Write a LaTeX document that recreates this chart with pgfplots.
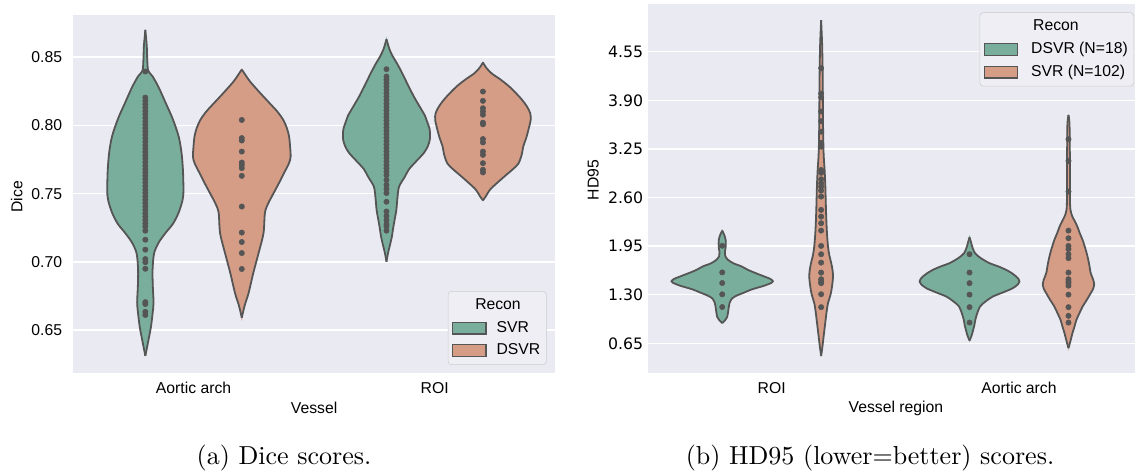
\documentclass[border=0pt]{standalone}
\usepackage{fontspec}
\usepackage{pgfplots}
\usepackage{pgfplotstable}
\pgfplotsset{compat=1.18}
\newfontfamily\arialfont{Liberation Sans}
\newfontfamily\dejavufont{DejaVu Sans}
\newfontfamily\capfont{lmroman10-regular}[Extension=.otf]
\definecolor{bgcol}{HTML}{EAEAF2}
\definecolor{cgreen}{RGB}{122,174,156}
\definecolor{csalmon}{RGB}{214,157,134}
\definecolor{vgray}{HTML}{555555}
\definecolor{dotgray}{HTML}{555555}
\definecolor{legborder}{HTML}{CCCCCC}
\definecolor{legfill}{HTML}{EEEEF4}
\newcommand{\tfont}{\arialfont\fontsize{11.8}{14}\selectfont}
\newcommand{\dfont}{\dejavufont\fontsize{11.8}{14}\selectfont}

% ---------- Dice violins: value v, half width w ----------
\pgfplotstableread{
v w
0.631 0
0.640 0.010
0.652 0.023
0.662 0.030
0.670 0.034
0.682 0.031
0.694 0.030
0.706 0.036
0.714 0.055
0.721 0.083
0.728 0.115
0.736 0.138
0.745 0.154
0.752 0.158
0.767 0.156
0.780 0.150
0.792 0.138
0.805 0.113
0.817 0.083
0.828 0.055
0.836 0.030
0.840 0.012
0.848 0.008
0.858 0.006
0.870 0
}\dSA
\pgfplotstableread{
v w
0.659 0
0.668 0.012
0.677 0.028
0.692 0.048
0.706 0.069
0.721 0.090
0.736 0.096
0.743 0.110
0.750 0.131
0.758 0.155
0.765 0.175
0.772 0.195
0.777 0.2025
0.785 0.200
0.792 0.196
0.798 0.187
0.804 0.172
0.810 0.148
0.816 0.117
0.824 0.075
0.832 0.035
0.837 0.015
0.841 0
}\dDA
\pgfplotstableread{
v w
0.700 0
0.706 0.006
0.712 0.014
0.718 0.022
0.725 0.028
0.732 0.035
0.738 0.041
0.746 0.045
0.755 0.052
0.762 0.075
0.768 0.094
0.774 0.125
0.780 0.156
0.785 0.172
0.790 0.180
0.797 0.179
0.803 0.168
0.807 0.160
0.814 0.137
0.821 0.114
0.830 0.088
0.838 0.066
0.845 0.045
0.851 0.025
0.856 0.012
0.8632 0
}\dSR
\pgfplotstableread{
v w
0.745 0
0.748 0.012
0.753 0.030
0.758 0.060
0.763 0.092
0.768 0.125
0.772 0.147
0.778 0.160
0.785 0.168
0.791 0.180
0.797 0.189
0.804 0.198
0.809 0.196
0.814 0.182
0.819 0.161
0.824 0.135
0.829 0.106
0.834 0.070
0.838 0.037
0.842 0.015
0.8461 0
}\dDR
% ---------- HD95 violins ----------
\pgfplotstableread{
v w
0.92 0
0.96 0.012
1.00 0.020
1.05 0.023
1.12 0.026
1.19 0.030
1.25 0.040
1.29 0.060
1.33 0.090
1.37 0.119
1.42 0.170
1.46 0.200
1.48 0.205
1.51 0.195
1.55 0.165
1.59 0.134
1.63 0.105
1.68 0.077
1.72 0.045
1.77 0.022
1.82 0.012
1.87 0.011
1.94 0.014
2.03 0.014
2.10 0.008
2.157 0
}\hDR
\pgfplotstableread{
v w
0.48 0
0.60 0.005
0.74 0.010
0.85 0.014
0.96 0.018
1.07 0.022
1.19 0.028
1.30 0.038
1.41 0.044
1.54 0.048
1.63 0.046
1.72 0.041
1.83 0.033
1.94 0.028
2.10 0.024
2.30 0.021
2.50 0.019
2.75 0.017
2.97 0.014
3.19 0.010
3.50 0.008
3.90 0.007
4.30 0.006
4.65 0.004
4.97 0
}\hSR
\pgfplotstableread{
v w
0.686 0
0.75 0.008
0.82 0.014
0.90 0.020
0.96 0.023
1.04 0.030
1.14 0.042
1.21 0.065
1.275 0.094
1.33 0.135
1.387 0.175
1.44 0.196
1.475 0.202
1.51 0.198
1.542 0.189
1.59 0.170
1.632 0.148
1.68 0.115
1.721 0.081
1.79 0.045
1.855 0.022
1.93 0.012
2.00 0.006
2.069 0
}\hDA
\pgfplotstableread{
v w
0.585 0
0.68 0.008
0.785 0.016
0.87 0.024
0.963 0.032
1.05 0.044
1.141 0.057
1.23 0.074
1.32 0.090
1.38 0.100
1.431 0.104
1.50 0.100
1.587 0.090
1.70 0.084
1.81 0.077
1.92 0.068
2.033 0.057
2.12 0.046
2.21 0.036
2.28 0.026
2.344 0.016
2.434 0.008
2.60 0.006
3.00 0.006
3.40 0.005
3.60 0.004
3.704 0
}\hSA

% #1 table, #2 centre, #3 colour
\newcommand{\violin}[3]{%
  \addplot[fill=#3, draw=#3, line width=0.5pt, smooth, tension=0.5, forget plot]
    table[x expr=#2+\thisrow{w}, y=v]{#1} -- cycle;
  \addplot[fill=#3, draw=#3, line width=0.5pt, smooth, tension=0.5, forget plot]
    table[x expr=#2-\thisrow{w}, y=v]{#1} -- cycle;
  \addplot[draw=vgray, line width=1.35pt, smooth, tension=0.5, forget plot]
    table[x expr=#2+\thisrow{w}, y=v]{#1};
  \addplot[draw=vgray, line width=1.35pt, smooth, tension=0.5, forget plot]
    table[x expr=#2-\thisrow{w}, y=v]{#1};
}

\pgfplotsset{
  sbstyle/.style={
    scale only axis,
    axis background/.style={fill=bgcol},
    axis line style={draw=none},
    major tick length=0pt,
    ymajorgrids,
    grid style={white, line width=1.1pt},
    xtick={0,1},
    clip=true,
    legend cell align=left,
    /pgf/number format/assume math mode=true,
    /pgf/number format/.cd, fixed, fixed zerofill, precision=2,
  },
  dots/.style={only marks, mark=*, mark size=2pt, color=dotgray, forget plot},
  legend image code/.code={\draw[#1, sharp corners, draw=vgray, line width=0.9pt] (0pt,-4.4pt) rectangle (25pt,4.4pt);},
}

\begin{document}
\begin{tikzpicture}
\useasboundingbox (0,0) rectangle (851.25pt,355.5pt);

% ================= (a) Dice =================
\begin{axis}[sbstyle,
  at={(54.75pt,76pt)}, anchor=south west,
  width=361.7pt, height=268.3pt,
  xmin=-0.5, xmax=1.5, ymin=0.6187, ymax=0.881,
  ytick={0.65,0.70,0.75,0.80,0.85},
  xticklabels={Aortic arch, ROI},
  xticklabel style={font=\tfont, anchor=center, yshift=-11.5pt},
  yticklabel style={font=\tfont, anchor=east, inner sep=0pt, xshift=-8pt},
  xlabel={Vessel}, ylabel={Dice},
  xlabel style={font=\tfont, at={(axis description cs:0.5,0)}, anchor=center, yshift=-26.5pt},
  ylabel style={font=\tfont, at={(axis description cs:-0.1167,0.492)}, anchor=center},
  legend style={at={(axis description cs:0.982,0.0215)}, anchor=south east,
    draw=legborder, fill=legfill, rounded corners=2.5pt, font=\tfont,
    inner xsep=3pt, inner ysep=3pt, row sep=2pt,
    nodes={inner sep=1.5pt, text height=9pt, text depth=3pt},
    /tikz/every odd column/.append style={column sep=6pt}},
]
\violin{\dSA}{-0.2}{cgreen}
\violin{\dDA}{0.2}{csalmon}
\violin{\dSR}{0.8}{cgreen}
\violin{\dDR}{1.2}{csalmon}
\addplot[dots] coordinates {
(-0.2,0.8395) (-0.2,0.8204) (-0.2,0.818) (-0.2,0.8155) (-0.2,0.813) (-0.2,0.8105)
(-0.2,0.808) (-0.2,0.8055) (-0.2,0.803) (-0.2,0.8005) (-0.2,0.798) (-0.2,0.7955)
(-0.2,0.793) (-0.2,0.7905) (-0.2,0.788) (-0.2,0.7855) (-0.2,0.783) (-0.2,0.7805)
(-0.2,0.778) (-0.2,0.7755) (-0.2,0.773) (-0.2,0.7705) (-0.2,0.768) (-0.2,0.7655)
(-0.2,0.763) (-0.2,0.7605) (-0.2,0.758) (-0.2,0.7555) (-0.2,0.753) (-0.2,0.7505)
(-0.2,0.748) (-0.2,0.7455) (-0.2,0.743) (-0.2,0.7405) (-0.2,0.738) (-0.2,0.7355)
(-0.2,0.733) (-0.2,0.7305) (-0.2,0.728) (-0.2,0.7259) (-0.2,0.7228) (-0.2,0.7162)
(-0.2,0.7089) (-0.2,0.702) (-0.2,0.6997) (-0.2,0.6949) (-0.2,0.6704) (-0.2,0.669)
(-0.2,0.6633) (-0.2,0.661)
};
\addplot[dots] coordinates {
(0.2,0.804) (0.2,0.7907) (0.2,0.7889) (0.2,0.7808) (0.2,0.7728) (0.2,0.7709)
(0.2,0.7687) (0.2,0.763) (0.2,0.7405) (0.2,0.7214) (0.2,0.7145) (0.2,0.7064) (0.2,0.6947)
};
\addplot[dots] coordinates {
(0.8,0.8412) (0.8,0.8358) (0.8,0.8335) (0.8,0.831) (0.8,0.8285) (0.8,0.826)
(0.8,0.8235) (0.8,0.821) (0.8,0.8185) (0.8,0.816) (0.8,0.8135) (0.8,0.811)
(0.8,0.8085) (0.8,0.806) (0.8,0.8035) (0.8,0.801) (0.8,0.7985) (0.8,0.796)
(0.8,0.7935) (0.8,0.791) (0.8,0.7885) (0.8,0.786) (0.8,0.7835) (0.8,0.781)
(0.8,0.7785) (0.8,0.776) (0.8,0.7735) (0.8,0.771) (0.8,0.7685) (0.8,0.766)
(0.8,0.7635) (0.8,0.760) (0.8,0.7565) (0.8,0.7535) (0.8,0.7504) (0.8,0.744)
(0.8,0.7369) (0.8,0.7335) (0.8,0.7305) (0.8,0.7275) (0.8,0.7259) (0.8,0.7228)
};
\addplot[dots] coordinates {
(1.2,0.8248) (1.2,0.818) (1.2,0.8126) (1.2,0.8102) (1.2,0.8078) (1.2,0.802)
(1.2,0.8008) (1.2,0.790) (1.2,0.7875) (1.2,0.7808) (1.2,0.7784) (1.2,0.7723)
(1.2,0.7675) (1.2,0.7655)
};
\addlegendimage{empty legend}\addlegendentry{\hspace*{-16pt}Recon}
\addlegendimage{fill=cgreen}\addlegendentry{SVR}
\addlegendimage{fill=csalmon}\addlegendentry{DSVR}
\end{axis}

% ================= (b) HD95 =================
\begin{axis}[sbstyle,
  at={(486pt,76pt)}, anchor=south west,
  width=365.25pt, height=276.5pt,
  xmin=-0.5, xmax=1.469, ymin=0.257, ymax=5.188,
  ytick={0.65,1.30,1.95,2.60,3.25,3.90,4.55},
  xticklabels={ROI, Aortic arch},
  xticklabel style={font=\tfont, anchor=center, yshift=-11.5pt},
  yticklabel style={font=\dfont, anchor=east, inner sep=0pt, xshift=-3.5pt},
  xlabel={Vessel region}, ylabel={HD95},
  xlabel style={font=\tfont, at={(axis description cs:0.509,0)}, anchor=center, yshift=-27pt},
  ylabel style={font=\tfont, at={(axis description cs:-0.1123,0.5226)}, anchor=center},
  legend style={at={(axis description cs:0.998,0.977)}, anchor=north east,
    draw=legborder, fill=legfill, rounded corners=2.5pt, font=\tfont,
    inner xsep=3pt, inner ysep=3pt, row sep=2pt,
    nodes={inner sep=1.5pt, text height=9pt, text depth=3pt},
    /tikz/every odd column/.append style={column sep=8pt}},
]
\violin{\hDR}{-0.2}{cgreen}
\violin{\hSR}{0.2}{csalmon}
\violin{\hDA}{0.8}{cgreen}
\violin{\hSA}{1.2}{csalmon}
\addplot[dots] coordinates {
(-0.2,1.954) (-0.2,1.598) (-0.2,1.456) (-0.2,1.305) (-0.2,1.135)
};
\addplot[dots] coordinates {
(0.2,4.33) (0.2,3.99) (0.2,3.94) (0.2,3.75) (0.2,3.62) (0.2,3.48) (0.2,3.33)
(0.2,3.28) (0.2,2.968) (0.2,2.93) (0.2,2.844) (0.2,2.79) (0.2,2.745) (0.2,2.692)
(0.2,2.612) (0.2,2.434) (0.2,2.344) (0.2,2.256) (0.2,2.157) (0.2,1.952)
(0.2,1.841) (0.2,1.729) (0.2,1.595) (0.2,1.507) (0.2,1.475) (0.2,1.454)
(0.2,1.306) (0.2,1.133)
};
\addplot[dots] coordinates {
(0.8,1.841) (0.8,1.596) (0.8,1.454) (0.8,1.301) (0.8,1.133) (0.8,0.927)
};
\addplot[dots] coordinates {
(1.2,3.379) (1.2,3.089) (1.2,2.679) (1.2,2.157) (1.2,2.055) (1.2,1.952)
(1.2,1.91) (1.2,1.841) (1.2,1.788) (1.2,1.596) (1.2,1.507) (1.2,1.48)
(1.2,1.454) (1.2,1.42) (1.2,1.301) (1.2,1.133) (1.2,1.017) (1.2,0.927)
};
\addlegendimage{empty legend}\addlegendentry{\hspace*{1.5pt}Recon}
\addlegendimage{fill=cgreen}\addlegendentry{DSVR (N=18)}
\addlegendimage{fill=csalmon}\addlegendentry{SVR (N=102)}
\end{axis}

\node[anchor=base, font=\capfont\fontsize{19.5}{22}\selectfont] at (213pt,6.75pt) {(a) Dice scores.};
\node[anchor=base, font=\capfont\fontsize{19.5}{22}\selectfont] at (652.5pt,6.75pt) {(b) HD95 (lower=better) scores.};
\end{tikzpicture}
\end{document}
